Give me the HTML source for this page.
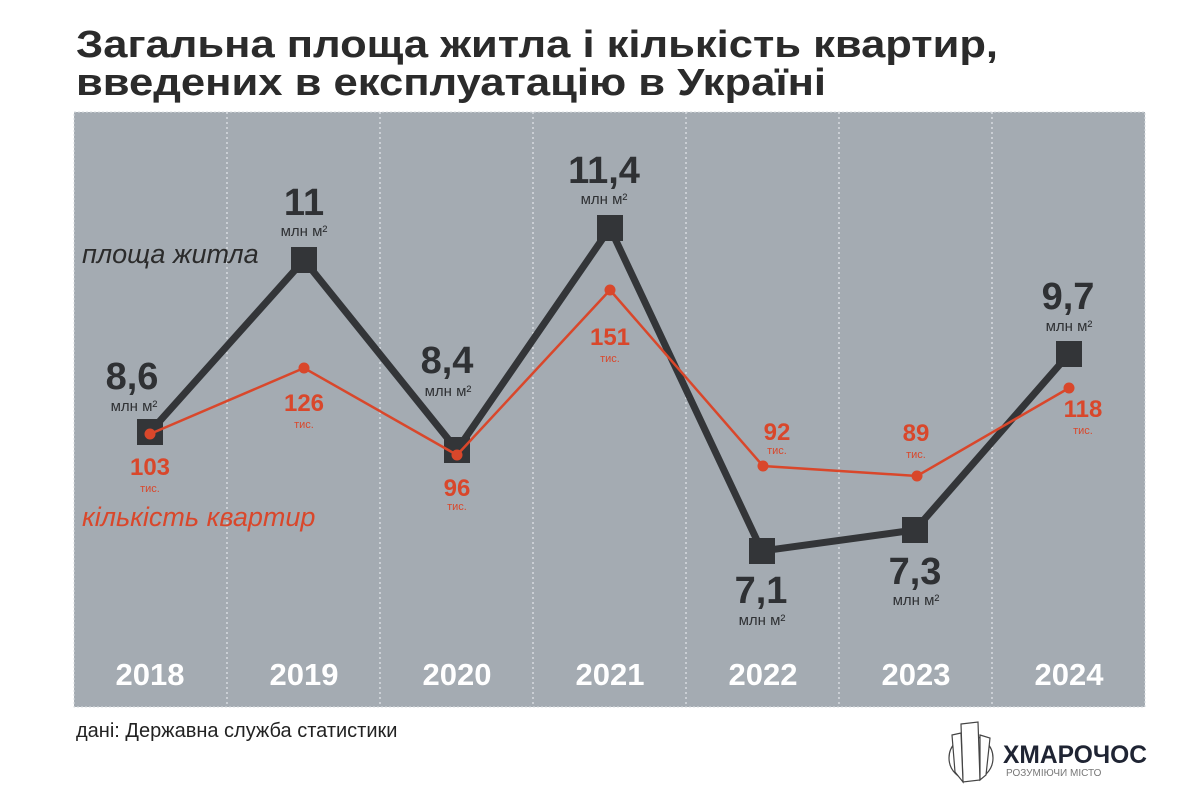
<!DOCTYPE html>
<html><head><meta charset="utf-8"><style>
html,body{margin:0;padding:0;background:#fff;width:1200px;height:800px;overflow:hidden}
svg{display:block}
text{font-family:"Liberation Sans","DejaVu Sans",sans-serif}
</style></head><body>
<svg width="1200" height="800" viewBox="0 0 1200 800" xmlns="http://www.w3.org/2000/svg">
<text x="76" y="57" font-size="38" font-weight="bold" fill="#2b2b2b" textLength="922" lengthAdjust="spacingAndGlyphs">Загальна площа житла і кількість квартир,</text>
<text x="76" y="95" font-size="38" font-weight="bold" fill="#2b2b2b" textLength="750" lengthAdjust="spacingAndGlyphs">введених в експлуатацію в Україні</text>
<rect x="74" y="112" width="1071" height="595" fill="#a4abb2" stroke="#d8dce0" stroke-dasharray="2,2"/>
<g stroke="#e4e7ea" stroke-width="1.2" stroke-dasharray="2,3">
<line x1="227" y1="112" x2="227" y2="707"/><line x1="380" y1="112" x2="380" y2="707"/>
<line x1="533" y1="112" x2="533" y2="707"/><line x1="686" y1="112" x2="686" y2="707"/>
<line x1="839" y1="112" x2="839" y2="707"/><line x1="992" y1="112" x2="992" y2="707"/>
</g>
<polyline points="150,432 304,260 457,450 610,228 762,551 915,530 1069,354" fill="none" stroke="#333538" stroke-width="7" stroke-linejoin="miter"/>
<g fill="#333538">
<rect x="137" y="419" width="26" height="26"/><rect x="291" y="247" width="26" height="26"/>
<rect x="444" y="437" width="26" height="26"/><rect x="597" y="215" width="26" height="26"/>
<rect x="749" y="538" width="26" height="26"/><rect x="902" y="517" width="26" height="26"/>
<rect x="1056" y="341" width="26" height="26"/>
</g>
<polyline points="150,434 304,368 457,455 610,290 763,466 917,476 1069,388" fill="none" stroke="#d9472b" stroke-width="2.5"/>
<g fill="#d9472b">
<circle cx="150" cy="434" r="5.5"/><circle cx="304" cy="368" r="5.5"/><circle cx="457" cy="455" r="5.5"/>
<circle cx="610" cy="290" r="5.5"/><circle cx="763" cy="466" r="5.5"/><circle cx="917" cy="476" r="5.5"/>
<circle cx="1069" cy="388" r="5.5"/>
</g>
<g font-weight="bold" font-size="38" fill="#2f3134" text-anchor="middle">
<text x="132" y="389">8,6</text><text x="304" y="215">11</text><text x="447" y="373">8,4</text>
<text x="604" y="183">11,4</text><text x="761" y="603">7,1</text><text x="915" y="584">7,3</text><text x="1068" y="309">9,7</text>
</g>
<g font-size="15" fill="#2f3134" text-anchor="middle">
<text x="134" y="411">млн м²</text><text x="304" y="236">млн м²</text><text x="448" y="396">млн м²</text>
<text x="604" y="204">млн м²</text><text x="762" y="625">млн м²</text><text x="916" y="605">млн м²</text><text x="1069" y="331">млн м²</text>
</g>
<g font-weight="bold" font-size="24" fill="#d9472b" text-anchor="middle">
<text x="150" y="475">103</text><text x="304" y="411">126</text><text x="457" y="496">96</text>
<text x="610" y="345">151</text><text x="777" y="440">92</text><text x="916" y="441">89</text><text x="1083" y="417">118</text>
</g>
<g font-size="11" fill="#d9472b" text-anchor="middle">
<text x="150" y="492">тис.</text><text x="304" y="428">тис.</text><text x="457" y="510">тис.</text>
<text x="610" y="362">тис.</text><text x="777" y="454">тис.</text><text x="916" y="458">тис.</text><text x="1083" y="434">тис.</text>
</g>
<text x="82" y="263" font-size="27" font-style="italic" fill="#2b2b2b">площа житла</text>
<text x="82" y="526" font-size="27" font-style="italic" fill="#d9472b">кількість квартир</text>
<g font-weight="bold" font-size="31" fill="#fff" text-anchor="middle">
<text x="150" y="685">2018</text><text x="304" y="685">2019</text><text x="457" y="685">2020</text>
<text x="610" y="685">2021</text><text x="763" y="685">2022</text><text x="916" y="685">2023</text><text x="1069" y="685">2024</text>
</g>
<text x="76" y="737" font-size="20" fill="#222">дані: Державна служба статистики</text>
<g stroke="#444" stroke-width="1.2" fill="none">
<circle cx="971" cy="758" r="22"/>
<path d="M961 724 L978 722 L980 780 L963 782 Z" fill="#fff"/>
<path d="M952 735 L961 733 L963 782 L955 772 Z" fill="#fff"/>
<path d="M980 735 L990 738 L986 775 L980 780 Z" fill="#fff"/>
</g>
<text x="1003" y="763" font-size="25" font-weight="bold" fill="#1f2433" textLength="144" lengthAdjust="spacingAndGlyphs">ХМАРОЧОС</text>
<text x="1006" y="776" font-size="10" fill="#777">РОЗУМІЮЧИ МІСТО</text>
</svg>
</body></html>
